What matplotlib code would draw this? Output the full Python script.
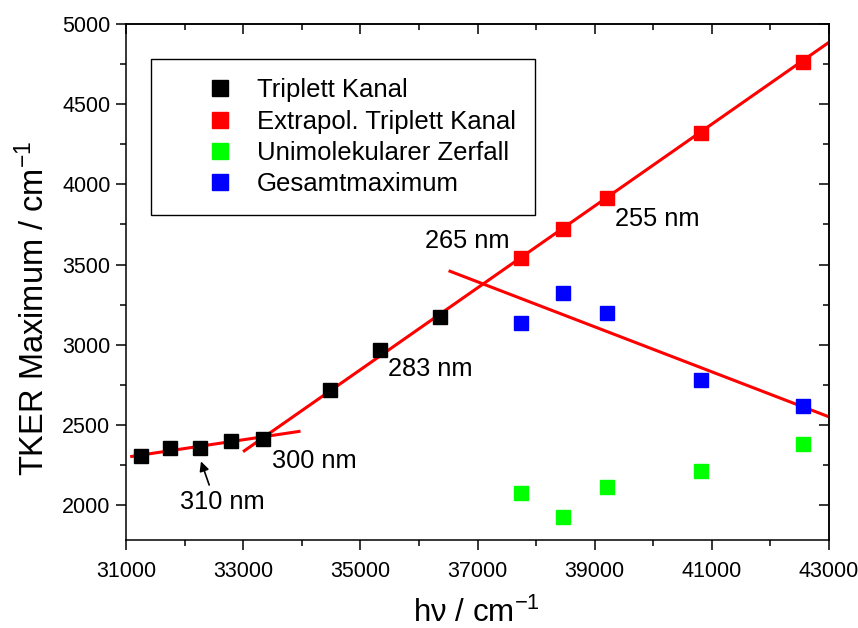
import matplotlib
matplotlib.use("Agg")
import matplotlib.pyplot as plt
from matplotlib.ticker import FixedLocator

plt.rcParams['font.family'] = ['Liberation Sans', 'DejaVu Sans']
plt.rcParams['mathtext.fontset'] = 'custom'
plt.rcParams['mathtext.rm'] = 'Liberation Sans'
plt.rcParams['mathtext.it'] = 'Liberation Sans:italic'

# ---- data ----
triplet_x = [31250, 31746, 32258, 32787, 33333, 34483, 35336, 36364]
triplet_y = [2307, 2353, 2353, 2400, 2411, 2716, 2967, 3174]

extrap_x = [37736, 38462, 39216, 40816, 42553]
extrap_y = [3542, 3722, 3915, 4323, 4762]

uni_x = [37736, 38462, 39216, 40816, 42553]
uni_y = [2075, 1925, 2114, 2214, 2380]

gesamt_x = [37736, 38462, 39216, 40816, 42553]
gesamt_y = [3137, 3320, 3199, 2778, 2618]

fit_low_x = [31097, 33953]
fit_low_y = [2303, 2459]
fit_high_x = [33019, 43000]
fit_high_y = [2338, 4886]
fit_ges_x = [36531, 43000]
fit_ges_y = [3458, 2550]

labels = ["Triplett Kanal", "Extrapol. Triplett Kanal",
          "Unimolekularer Zerfall", "Gesamtmaximum"]

ann_text = ["310 nm", "300 nm", "283 nm", "265 nm", "255 nm"]
ann_x = [31922, 33492, 35472, 36104, 39347]
ann_y = [2019, 2274, 2847, 3645, 3786]

arrow_tail = (32420, 2125)
arrow_head = (32280, 2272)

x_major = [31000, 33000, 35000, 37000, 39000, 41000, 43000]
x_minor = [32000, 34000, 36000, 38000, 40000, 42000]
y_major = [2000, 2500, 3000, 3500, 4000, 4500, 5000]
y_minor = [1750, 2250, 2750, 3250, 3750, 4250, 4750]

# ---- figure ----
fig = plt.figure(figsize=(8.58, 6.28), dpi=100)
ax = fig.add_axes([126/858, 1-539.5/628, 703/858, 515.5/628])

red = '#FF0000'
lw = 2.2
ax.plot(fit_low_x, fit_low_y, color=red, lw=lw, zorder=2)
ax.plot(fit_high_x, fit_high_y, color=red, lw=lw, zorder=2)
ax.plot(fit_ges_x, fit_ges_y, color=red, lw=lw, zorder=2)

ms = 10.3
ax.plot(triplet_x, triplet_y, 's', color='black', ms=ms, mec='black', label=labels[0], zorder=3)
ax.plot(extrap_x, extrap_y, 's', color=red, ms=ms, mec=red, label=labels[1], zorder=3)
ax.plot(uni_x, uni_y, 's', color='#00FF00', ms=ms, mec='#00FF00', label=labels[2], zorder=3)
ax.plot(gesamt_x, gesamt_y, 's', color='#0000FF', ms=ms, mec='#0000FF', label=labels[3], zorder=3)

for t, x, y in zip(ann_text, ann_x, ann_y):
    ax.text(x, y, t, fontsize=18.3, ha='left', va='center')

ax.annotate('', xy=arrow_head, xytext=arrow_tail,
            arrowprops=dict(arrowstyle='-|>', color='black', lw=1.2,
                            mutation_scale=14, shrinkA=0, shrinkB=0))

ax.set_xlim(31000, 43000)
ax.set_ylim(1785, 5000)

ax.xaxis.set_major_locator(FixedLocator(x_major))
ax.xaxis.set_minor_locator(FixedLocator(x_minor))
ax.yaxis.set_major_locator(FixedLocator(y_major))
ax.yaxis.set_minor_locator(FixedLocator(y_minor))

ax.tick_params(which='major', direction='out', length=7.2, width=1.1, labelsize=15.5)
ax.tick_params(which='minor', direction='out', length=4, width=1.1)
ax.tick_params(axis='x', pad=8)
ax.tick_params(axis='y', pad=4)

for sp in ax.spines.values():
    sp.set_linewidth(1.1)

secx = ax.secondary_xaxis('top')
secx.xaxis.set_major_locator(FixedLocator(x_major))
secx.xaxis.set_minor_locator(FixedLocator(x_minor))
secx.tick_params(which='major', direction='in', length=7.2, width=1.1, labeltop=False)
secx.tick_params(which='minor', direction='in', length=4, width=1.1)
secx.spines['top'].set_linewidth(1.1)

secy = ax.secondary_yaxis('right')
secy.yaxis.set_major_locator(FixedLocator(y_major))
secy.yaxis.set_minor_locator(FixedLocator(y_minor))
secy.tick_params(which='major', direction='in', length=7.2, width=1.1, labelright=False)
secy.tick_params(which='minor', direction='in', length=4, width=1.1)
secy.spines['right'].set_linewidth(1.1)

ax.set_xlabel(r'h$\mathregular{\nu}$ / cm$^{\mathregular{-1}}$', fontsize=22.5)
ax.xaxis.set_label_coords(0.4986, -0.112)
ax.set_ylabel(r'TKER Maximum / cm$^{\mathregular{-1}}$', fontsize=23.5)
ax.yaxis.set_label_coords(-0.106, 0.448)

leg = ax.legend(loc='upper left', bbox_to_anchor=(0.0356, 0.932), fontsize=18.5,
                frameon=True, fancybox=False, edgecolor='black', framealpha=1,
                borderpad=0.75, handlelength=3.83, handletextpad=-0.46,
                labelspacing=0.28, borderaxespad=0, markerscale=1.05)
leg.get_frame().set_linewidth(1.0)

fig.savefig('out.png', dpi=100)
